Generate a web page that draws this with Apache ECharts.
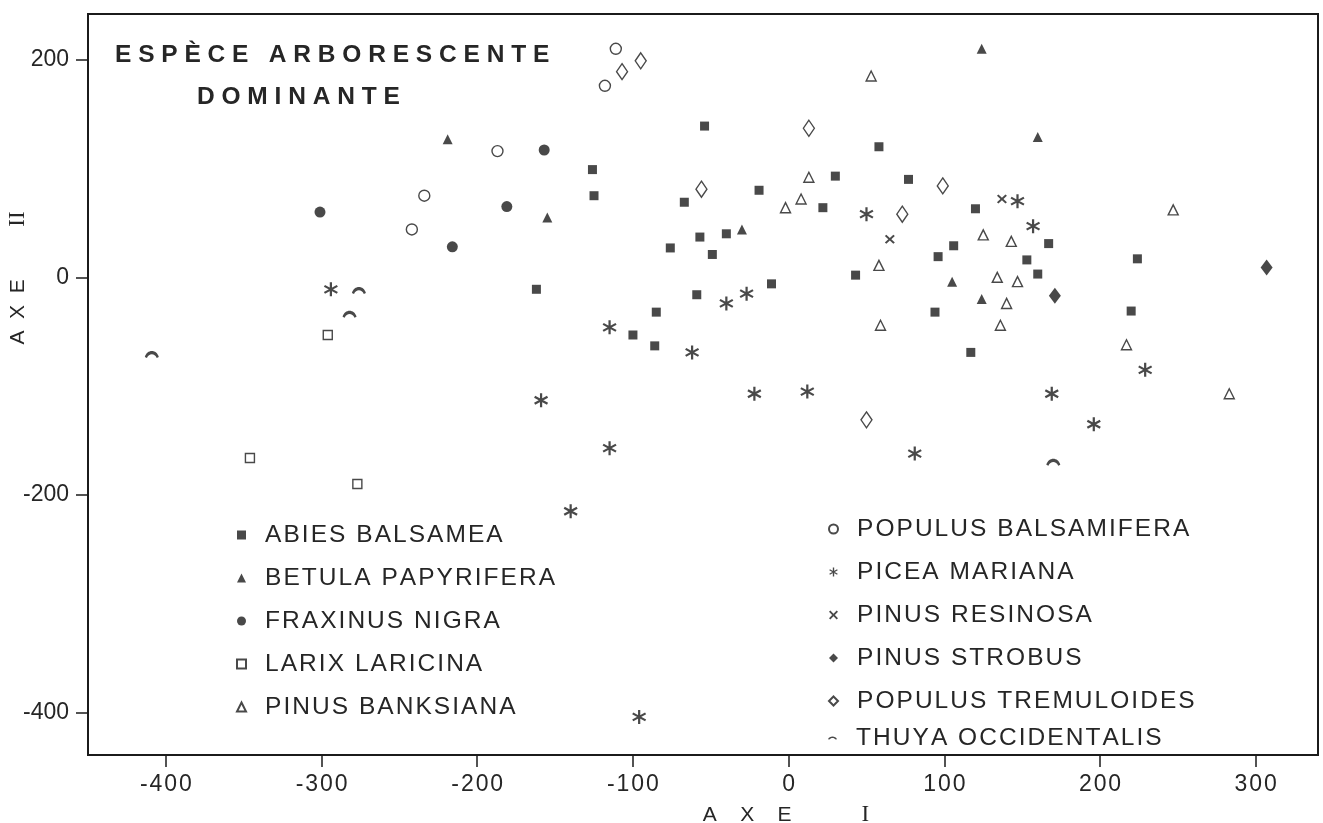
<!DOCTYPE html>
<html>
<head>
<meta charset="utf-8">
<script src="https://cdn.jsdelivr.net/npm/echarts@6/dist/echarts.min.js"></script>
<style>
    html, body {margin: 0; padding: 0; background: #fff;}
    #chart {width: 1323px; height: 823px;}
</style>
</head>
<body>
<div id="chart"></div>
<script>
    // scores on the first two axes, one list per dominant tree species
    var ABIES = [[-126, 99], [-125, 75], [-162, -11], [-54, 139], [58, 120], [30, 93], [77, 90], [-67, 69], [-19, 80],
        [22, 64], [120, 63], [167, 31], [106, 29], [96, 19], [153, 16], [224, 17], [-76, 27], [-57, 37], [-40, 40],
        [-49, 21], [43, 2], [160, 3], [-11, -6], [-59, -16], [-85, -32], [94, -32], [220, -31], [-100, -53],
        [-86, -63], [117, -69]];
    var BETULA = [[-219, 127], [-155, 55], [124, 210], [160, 129], [-30, 44], [105, -4], [124, -20]];
    var FRAXINUS = [[-157, 117], [-301, 60], [-181, 65], [-216, 28]];
    var LARIX = [[-296, -53], [-346, -166], [-277, -190]];
    var BANKSIANA = [[53, 185], [13, 92], [8, 72], [-2, 64], [247, 62], [125, 39], [143, 33], [58, 11], [134, 0],
        [147, -4], [140, -24], [59, -44], [136, -44], [217, -62], [283, -107]];
    var BALSAMIFERA = [[-111, 210], [-118, 176], [-187, 116], [-234, 75], [-242, 44]];
    var PICEA = [[-294, -11], [-115, -46], [-159, -113], [-115, -157], [-140, -215], [-96, -404], [50, 58], [147, 70],
        [157, 47], [-40, -24], [-27, -15], [-62, -69], [229, -85], [-22, -107], [12, -105], [169, -107],
        [196, -135], [81, -162]];
    var RESINOSA = [[137, 72], [65, 35]];
    var STROBUS = [[307, 9], [171, -17]];
    var TREMULOIDES = [[-95, 199], [-107, 189], [13, 137], [99, 84], [-56, 81], [73, 58], [50, -131]];
    var THUYA = [[-276, -12], [-282, -34], [-409, -71], [170, -170]];

    var X_TICKS = [-400, -300, -200, -100, 0, 100, 200, 300];
    var Y_TICKS = [-400, -200, 0, 200];

    var INK = '#1b1b1b', TXT = '#262626', FONT = 'Liberation Sans';
    // plotter style markers
    var ASTER = 'path://M8.5,0L11.5,0L11.5,20L8.5,20Z M0.59,6.3L2.09,3.7L19.41,13.7L17.91,16.3Z M2.09,16.3L0.59,13.7L17.91,3.7L19.41,6.3Z';
    var CROSS = 'path://M0,3L3,0L10,7L17,0L20,3L13,10L20,17L17,20L10,13L3,20L0,17L7,10Z';
    var ARC = 'path://M0,9C3,1 17,1 20,9L17,10C14,5 6,5 3,10Z';

    function spaced(s) {
        return String(s).split('').join('\u200A');
    }

    function species(name, data, symbol, size, open) {
        return {
            type: 'scatter', name: name, data: data,
            symbol: symbol, symbolSize: size,
            itemStyle: open ? {color: '#fff', borderColor: INK, borderWidth: 1.4} : {color: INK, borderWidth: 0},
            z: open ? 3 : 2,
            silent: true
        };
    }

    var series = [
        species('ABIES BALSAMEA', ABIES, 'rect', 9, false),
        species('BETULA PAPYRIFERA', BETULA, 'triangle', 10, false),
        species('FRAXINUS NIGRA', FRAXINUS, 'circle', 11, false),
        species('LARIX LARICINA', LARIX, 'rect', 9, true),
        species('PINUS BANKSIANA', BANKSIANA, 'triangle', 10, true),
        species('POPULUS BALSAMIFERA', BALSAMIFERA, 'circle', 11, true),
        species('PICEA MARIANA', PICEA, ASTER, 14, false),
        species('PINUS RESINOSA', RESINOSA, CROSS, [10, 9], false),
        species('PINUS STROBUS', STROBUS, 'diamond', [12, 16], false),
        species('POPULUS TREMULOIDES', TREMULOIDES, 'diamond', [11, 16], true),
        species('THUYA OCCIDENTALIS', THUYA, ARC, [14, 7], false)
    ];

    function legendBlock(names, left, top) {
        return {
            data: names, left: left, top: top, orient: 'vertical',
            padding: 0, itemGap: 17, itemWidth: 9, itemHeight: 9,
            selectedMode: false, formatter: spaced,
            textStyle: {fontSize: 24.5, lineHeight: 26, color: TXT, fontFamily: FONT, padding: [0, 0, 0, 14]}
        };
    }

    var titleStyle = {fontSize: 24.5, fontWeight: 'bold', fontFamily: FONT, color: TXT, lineHeight: 24};

    var chart = echarts.init(document.getElementById('chart'));
    chart.setOption({
        animation: false,
        backgroundColor: '#fff',
        title: [
            {text: 'E S P È C E   A R B O R E S C E N T E', left: 115, top: 43, padding: 0, textStyle: titleStyle},
            {text: 'D O M I N A N T E', left: 197, top: 85, padding: 0, textStyle: titleStyle}
        ],
        legend: [
            legendBlock(['ABIES BALSAMEA', 'BETULA PAPYRIFERA', 'FRAXINUS NIGRA', 'LARIX LARICINA', 'PINUS BANKSIANA'], 236, 522),
            legendBlock(['POPULUS BALSAMIFERA', 'PICEA MARIANA', 'PINUS RESINOSA', 'PINUS STROBUS', 'POPULUS TREMULOIDES'], 828, 516),
            legendBlock(['THUYA OCCIDENTALIS'], 828, 725)
        ],
        grid: {left: 88, right: 5, top: 14, bottom: 68, show: true, borderColor: INK, borderWidth: 2},
        xAxis: {
            type: 'value', min: -450, max: 340,
            axisLine: {show: true, onZero: false, lineStyle: {color: INK, width: 2}},
            axisTick: {show: true, length: 12, customValues: X_TICKS, lineStyle: {color: INK, width: 1.5}},
            axisLabel: {customValues: X_TICKS, margin: 18, fontSize: 23, color: TXT, fontFamily: FONT, formatter: spaced},
            splitLine: {show: false}
        },
        yAxis: {
            type: 'value', min: -439, max: 242,
            axisLine: {show: true, onZero: false, lineStyle: {color: INK, width: 2}},
            axisTick: {show: true, length: 12, customValues: Y_TICKS, lineStyle: {color: INK, width: 1.5}},
            axisLabel: {customValues: Y_TICKS, margin: 19, fontSize: 23, color: TXT, fontFamily: FONT},
            splitLine: {show: false}
        },
        graphic: [
            {   // name of the first axis
                type: 'text', x: 786, y: 815,
                style: {
                    text: '{a|A    X    E}            {b|I}', textAlign: 'center', textVerticalAlign: 'middle',
                    fill: TXT, font: '21px ' + FONT,
                    rich: {a: {fontSize: 21, fontFamily: FONT}, b: {fontSize: 23, fontFamily: 'Liberation Serif'}}
                }
            },
            {   // name of the second axis
                type: 'text', x: 18, y: 278, rotation: Math.PI / 2,
                style: {
                    text: '{a|A  X  E}         {b|II}', textAlign: 'center', textVerticalAlign: 'middle',
                    fill: TXT, font: '21px ' + FONT,
                    rich: {a: {fontSize: 21, fontFamily: FONT}, b: {fontSize: 23, fontFamily: 'Liberation Serif'}}
                }
            }
        ],
        series: series
    });
</script>
</body>
</html>
